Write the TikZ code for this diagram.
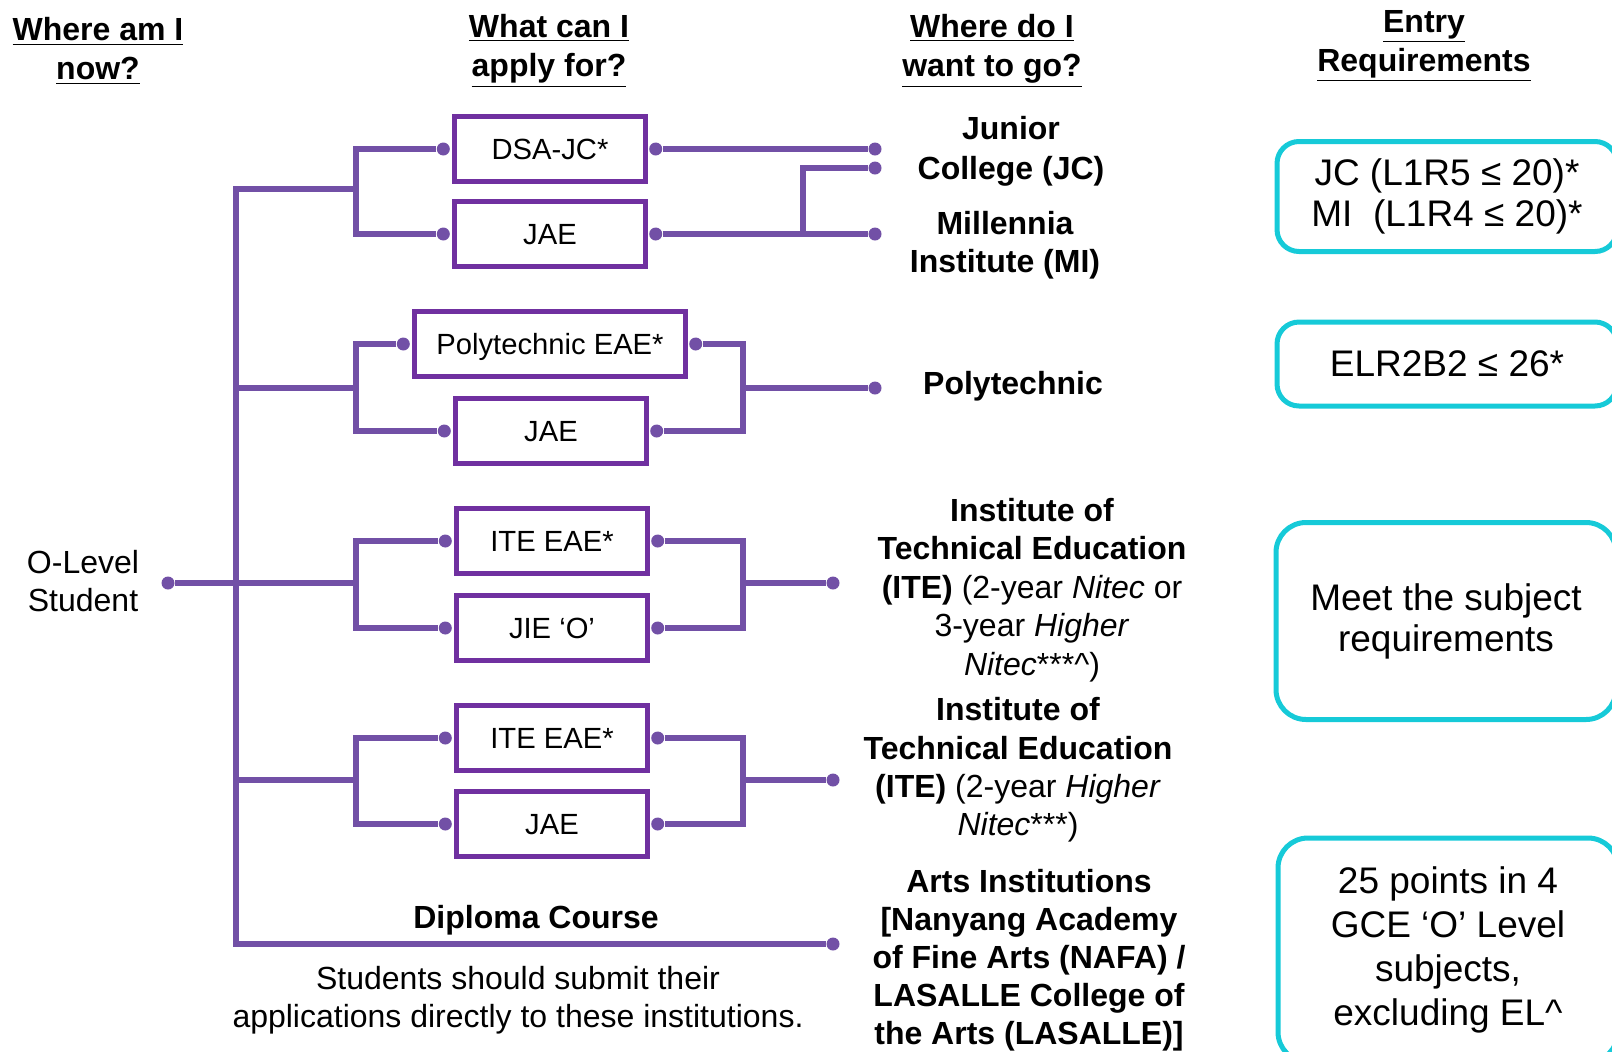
\documentclass[tikz,border=0pt]{standalone}
\usepackage{fontspec}
\setmainfont{Liberation Sans}
\definecolor{boxpurple}{HTML}{7030A0}
\definecolor{linkpurple}{HTML}{7250A6}
\definecolor{reqcyan}{HTML}{16CAD8}

\begin{document}
\begin{tikzpicture}[x=0.5pt,y=-0.5pt,
    app/.style={draw=boxpurple, line width=2.2pt, minimum width=95.5pt, minimum height=32.5pt, inner sep=0pt, text depth=0pt, font=\fontsize{14.6}{17}\selectfont},
    link/.style={draw=linkpurple, line width=3.2pt},
    pin/.style={circle, fill=linkpurple, inner sep=0pt, minimum size=6.5pt},
    head/.style={align=center, font=\bfseries\fontsize{16}{19.5}\selectfont},
    dest/.style={align=center, font=\fontsize{16}{19.2}\selectfont},
    req/.style={draw=reqcyan, line width=2.5pt, align=center, minimum width=170pt, font=\fontsize{18.5}{20.5}\selectfont}]
    \useasboundingbox (0,0) rectangle (1612,1051);
    % column heads
    \node[head] (h1) at (98,51) {\underline{Where am I}\\\underline{now?}};
    \node[head] (h2) at (549,51) {\underline{What can I}\\\underline{apply for?}};
    \node[head] (h3) at (992,51) {\underline{Where do I}\\\underline{want to go?}};
    \node[head] (h4) at (1424,46) {\underline{Entry}\\\underline{Requirements}};
    %
    \node[dest] (stu) at (83,581) {O-Level\\Student};
    \node[pin] (sp) at (168,583) {};
    % applications
    \node[app] (dsa) at (550,149) {DSA-JC*};
    \node[app] (jae1) at (550,234) {JAE};
    \node[app, minimum width=135.5pt] (pea) at (550,344) {Polytechnic EAE*};
    \node[app] (jae2) at (551,431) {JAE};
    \node[app] (ite1) at (552,541) {ITE EAE*};
    \node[app] (jie) at (552,628) {JIE ‘O’};
    \node[app] (ite2) at (552,738) {ITE EAE*};
    \node[app] (jae3) at (552,824) {JAE};
    \foreach \b in {dsa,jae1,pea,jae2,ite1,jie,ite2,jae3}{
        \node[pin] (\b L) at ([xshift=-4.5pt]\b.west) {};
        \node[pin] (\b R) at ([xshift=4pt]\b.east) {};
    }
    % trunk and forks
    \coordinate (t1) at (236,189);
    \coordinate (t2) at (236,388);
    \coordinate (t4) at (236,780);
    \coordinate (t5) at (236,944);
    \coordinate (f1) at (356,189);
    \coordinate (f2) at (356,388);
    \coordinate (f3) at (356,583);
    \coordinate (f4) at (356,780);
    \node[pin] (jcp) at (875,149) {};
    \node[pin] (jcq) at (875,168) {};
    \node[pin] (mip) at (875,234) {};
    \node[pin] (polyp) at (875,388) {};
    \node[pin] (itep) at (833,583) {};
    \node[pin] (hitep) at (833,780) {};
    \node[pin] (artp) at (833,944) {};
    \draw[link] (f1) -- (t1) -- (t5) -- (artp);
    \draw[link] (sp) -- (f3);
    \draw[link] (t2) -- (f2);
    \draw[link] (t4) -- (f4);
    \draw[link] (dsaL) -| (f1) |- (jae1L);
    \draw[link] (peaL) -| (f2) |- (jae2L);
    \draw[link] (ite1L) -| (f3) |- (jieL);
    \draw[link] (ite2L) -| (f4) |- (jae3L);
    %
    \draw[link] (dsaR) -- (jcp);
    \draw[link] (jae1R) -- (mip);
    \draw[link] (jae1R -| 803,0) |- (jcq);
    \draw[link] (peaR) -| (743,388) |- (jae2R);
    \draw[link] (743,388) -- (polyp);
    \draw[link] (ite1R) -| (743,583) |- (jieR);
    \draw[link] (743,583) -- (itep);
    \draw[link] (ite2R) -| (743,780) |- (jae3R);
    \draw[link] (743,780) -- (hitep);
    % destinations
    \node[dest, font=\bfseries\fontsize{16}{20}\selectfont] (jc) at (1011,151) {Junior\\College (JC)};
    \node[dest, font=\bfseries\fontsize{16}{19}\selectfont] (mi) at (1005,245) {Millennia\\Institute (MI)};
    \node[dest, font=\bfseries\fontsize{16}{19}\selectfont] (poly) at (1013,386) {Polytechnic};
    \node[dest] (ite) at (1032,590) {\textbf{Institute of}\\\textbf{Technical Education}\\\textbf{(ITE)} (2-year \textit{Nitec} or\\3-year \textit{Higher}\\\textit{Nitec}***\textasciicircum)};
    \node[dest] (hite) at (1018,770) {\textbf{Institute of}\\\textbf{Technical Education}\\\textbf{(ITE)} (2-year \textit{Higher}\\\textit{Nitec}***)};
    \node[dest, font=\bfseries\fontsize{16}{19}\selectfont] (arts) at (1029,960) {Arts Institutions\\{[}Nanyang Academy\\of Fine Arts (NAFA) /\\LASALLE College of\\the Arts (LASALLE)]};
    \node[dest, font=\bfseries\fontsize{16}{19}\selectfont] (dip) at (536,920) {Diploma Course};
    \node[dest, font=\fontsize{16}{19}\selectfont] (note) at (518,1000) {Students should submit their\\applications directly to these institutions.};
    % entry requirements
    \node[req, rounded corners=11pt, minimum height=55pt] (rjc) at (1447,196.5) {JC (L1R5 ≤ 20)*\\MI\ \ (L1R4 ≤ 20)*};
    \node[req, rounded corners=11pt, minimum height=42pt] (rpoly) at (1447,364) {ELR2B2 ≤ 26*};
    \node[req, rounded corners=15pt, minimum height=98.5pt] (rite) at (1446,621) {Meet the subject\\requirements};
    \node[req, rounded corners=15pt, minimum height=112pt, font=\fontsize{18.5}{22}\selectfont] (rart) at (1448,950) {25 points in 4\\GCE ‘O’ Level\\subjects,\\excluding EL\textasciicircum};
\end{tikzpicture}
\end{document}
